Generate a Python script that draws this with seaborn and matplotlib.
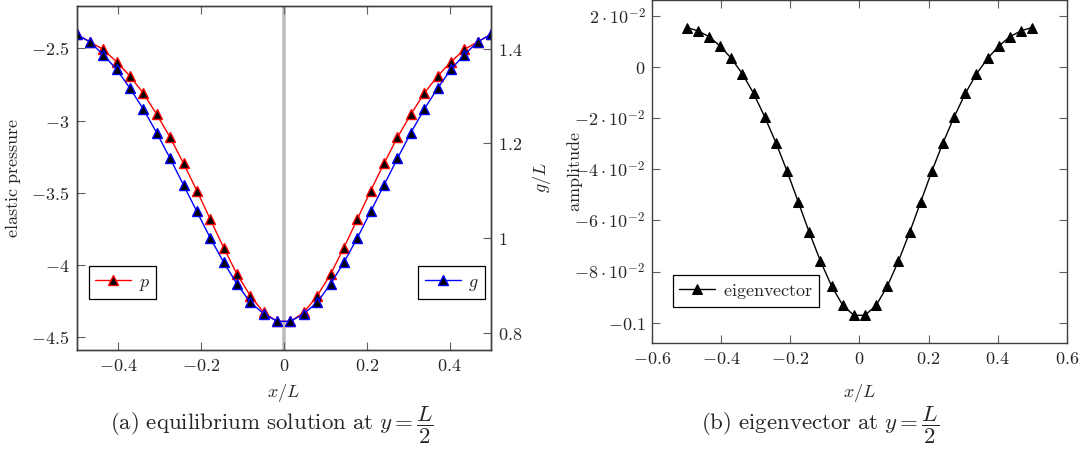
import matplotlib
matplotlib.use("Agg")
import matplotlib.pyplot as plt
import seaborn as sns
from matplotlib.ticker import FixedLocator, FixedFormatter

# grid positions x/L (32 nodes)
x_pos = [-0.5, -0.4677, -0.4355, -0.4032, -0.3710, -0.3387, -0.3065, -0.2742,
         -0.2419, -0.2097, -0.1774, -0.1452, -0.1129, -0.0806, -0.0484, -0.0161,
         0.0161, 0.0484, 0.0806, 0.1129, 0.1452, 0.1774, 0.2097, 0.2419,
         0.2742, 0.3065, 0.3387, 0.3710, 0.4032, 0.4355, 0.4677, 0.5]

# elastic pressure p
p_vals = [-2.401, -2.454, -2.507, -2.593, -2.691, -2.811, -2.956, -3.115,
          -3.295, -3.484, -3.682, -3.878, -4.062, -4.212, -4.327, -4.389,
          -4.389, -4.327, -4.212, -4.062, -3.878, -3.682, -3.484, -3.295,
          -3.115, -2.956, -2.811, -2.691, -2.593, -2.507, -2.454, -2.401]

# gap g/L
g_vals = [1.430, 1.414, 1.387, 1.356, 1.316, 1.272, 1.222, 1.168,
          1.112, 1.056, 1.000, 0.949, 0.903, 0.864, 0.840, 0.824,
          0.824, 0.840, 0.864, 0.903, 0.949, 1.000, 1.056, 1.112,
          1.168, 1.222, 1.272, 1.316, 1.356, 1.387, 1.414, 1.430]

# eigenvector amplitude
amp_vals = [0.0155, 0.0142, 0.0119, 0.0082, 0.0034, -0.0027, -0.0103, -0.0195,
            -0.0296, -0.0407, -0.0527, -0.0647, -0.0759, -0.0857, -0.0932, -0.0971,
            -0.0971, -0.0932, -0.0857, -0.0759, -0.0647, -0.0527, -0.0407, -0.0296,
            -0.0195, -0.0103, -0.0027, 0.0034, 0.0082, 0.0119, 0.0142, 0.0155]

# tick positions and labels
xa_ticks = [-0.4, -0.2, 0.0, 0.2, 0.4]
xa_labels = [r"$-0.4$", r"$-0.2$", r"$0$", r"$0.2$", r"$0.4$"]
p_ticks = [-4.5, -4.0, -3.5, -3.0, -2.5]
p_labels = [r"$-4.5$", r"$-4$", r"$-3.5$", r"$-3$", r"$-2.5$"]
g_ticks = [0.8, 1.0, 1.2, 1.4]
g_labels = [r"$0.8$", r"$1$", r"$1.2$", r"$1.4$"]
xb_ticks = [-0.6, -0.4, -0.2, 0.0, 0.2, 0.4, 0.6]
xb_labels = [r"$-0.6$", r"$-0.4$", r"$-0.2$", r"$0$", r"$0.2$", r"$0.4$", r"$0.6$"]
amp_ticks = [-0.1, -0.08, -0.06, -0.04, -0.02, 0.0, 0.02]
amp_labels = [r"$-0.1$", r"$-8\cdot10^{-2}$", r"$-6\cdot10^{-2}$", r"$-4\cdot10^{-2}$",
              r"$-2\cdot10^{-2}$", r"$0$", r"$2\cdot10^{-2}$"]

sns.set_style("white")
plt.rcParams["mathtext.fontset"] = "cm"
plt.rcParams["font.family"] = ["DejaVu Serif"]

FS = 13
CAP_FS = 16.5
SPINE = "#404040"

fig = plt.figure(figsize=(10.9, 4.5), dpi=100)
ax = fig.add_axes([0.0702, 0.2222, 0.3803, 0.7651])
ax2 = ax.twinx()
bx = fig.add_axes([0.5984, 0.2371, 0.3802, 0.7629])


def style_axes(a):
    for s in a.spines.values():
        s.set_color(SPINE)
        s.set_linewidth(1.0)
        s.set_visible(True)
    a.tick_params(direction="in", length=6, width=0.8, color="#606060",
                  labelsize=FS, pad=5)


# (a) equilibrium solution
ax.axvline(0.0, color="#bdbdbd", linewidth=2.6, zorder=0)
sns.lineplot(x=x_pos, y=p_vals, ax=ax, color="red", linewidth=1.0,
             marker="^", markersize=7, markerfacecolor="black",
             markeredgecolor="red", markeredgewidth=1.0, legend=False)
sns.lineplot(x=x_pos, y=g_vals, ax=ax2, color="blue", linewidth=1.0,
             marker="^", markersize=7, markerfacecolor="black",
             markeredgecolor="blue", markeredgewidth=1.0, legend=False)

ax.set_xlim(-0.5, 0.5)
ax.set_ylim(-4.587, -2.204)
ax2.set_ylim(0.7635, 1.4905)

for a in (ax, ax2):
    style_axes(a)

ax.xaxis.set_major_locator(FixedLocator(xa_ticks))
ax.xaxis.set_major_formatter(FixedFormatter(xa_labels))
ax.yaxis.set_major_locator(FixedLocator(p_ticks))
ax.yaxis.set_major_formatter(FixedFormatter(p_labels))
ax.tick_params(axis="x", top=True, bottom=True)
ax.tick_params(axis="y", left=True, right=False)
ax2.yaxis.set_major_locator(FixedLocator(g_ticks))
ax2.yaxis.set_major_formatter(FixedFormatter(g_labels))
ax2.tick_params(axis="y", right=True, left=False)

ax.set_xlabel(r"$x/L$", fontsize=FS)
ax.xaxis.set_label_coords(0.5, -0.093)
ax.set_ylabel(r"$\mathrm{elastic\ pressure}$", fontsize=FS)
ax.yaxis.set_label_coords(-0.130, 0.5)
ax2.set_ylabel(r"$g/L$", fontsize=FS)
ax2.yaxis.set_label_coords(1.097, 0.5)

leg_kw = dict(fontsize=FS, frameon=True, fancybox=False, framealpha=1,
              edgecolor="black", handlelength=2.0, borderpad=0.35,
              handletextpad=0.4, borderaxespad=0)
lp = ax.legend([ax.get_lines()[-1]], [r"$p$"], loc="lower left",
               bbox_to_anchor=(0.030, 0.148), **leg_kw)
lp.get_frame().set_linewidth(0.9)
lg = ax2.legend([ax2.get_lines()[-1]], [r"$g$"], loc="lower right",
                bbox_to_anchor=(0.9855, 0.148), **leg_kw)
lg.get_frame().set_linewidth(0.9)

# (b) eigenvector
sns.lineplot(x=x_pos, y=amp_vals, ax=bx, color="black", linewidth=1.0,
             marker="^", markersize=7, markerfacecolor="black",
             markeredgecolor="black", legend=False)
bx.set_xlim(-0.6, 0.6)
bx.set_ylim(-0.10806, 0.02626)
style_axes(bx)
bx.xaxis.set_major_locator(FixedLocator(xb_ticks))
bx.xaxis.set_major_formatter(FixedFormatter(xb_labels))
bx.yaxis.set_major_locator(FixedLocator(amp_ticks))
bx.yaxis.set_major_formatter(FixedFormatter(amp_labels))
bx.tick_params(top=True, bottom=True, left=True, right=True)

bx.set_xlabel(r"$x/L$", fontsize=FS)
bx.xaxis.set_label_coords(0.5, -0.113)
bx.set_ylabel(r"$\mathrm{amplitude}$", fontsize=FS)
bx.yaxis.set_label_coords(-0.163, 0.5)
lb = bx.legend([bx.get_lines()[-1]], [r"$\mathrm{eigenvector}$"],
               loc="lower left", bbox_to_anchor=(0.050, 0.106), **leg_kw)
lb.get_frame().set_linewidth(0.9)

# sub-captions
fig.text(272 / 1090, 1 - 425 / 450,
         r"$\mathrm{(a)\ equilibrium\ solution\ at\ }y=\dfrac{L}{2}$",
         ha="center", va="center", fontsize=CAP_FS)
fig.text(820 / 1090, 1 - 425 / 450,
         r"$\mathrm{(b)\ eigenvector\ at\ }y=\dfrac{L}{2}$",
         ha="center", va="center", fontsize=CAP_FS)

fig.savefig("out.png", dpi=100, facecolor="white")
